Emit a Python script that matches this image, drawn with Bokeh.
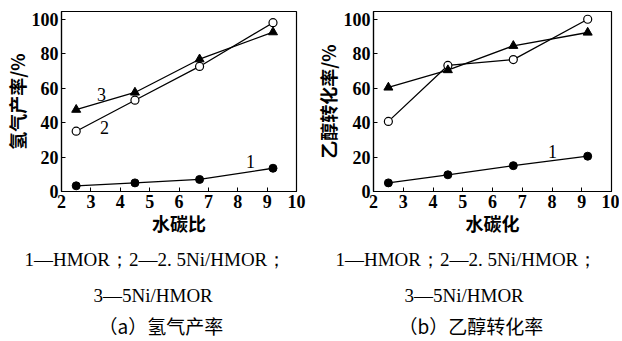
from bokeh.plotting import figure
from bokeh.models import Label, Range1d, Title
from bokeh.layouts import row
from bokeh.embed import file_html
from bokeh.resources import INLINE

# ---- data ----
ratio = [2.5, 4.5, 6.7, 9.2]
h2_hmor = [3.3, 5.0, 7.0, 13.5]
h2_25ni = [35.0, 53.0, 72.6, 98.0]
h2_5ni = [47.5, 57.5, 76.8, 92.5]

conv_hmor = [5.0, 9.7, 15.0, 20.5]
conv_25ni = [40.7, 73.2, 76.6, 100.0]
conv_5ni = [60.4, 70.5, 84.6, 92.3]

x_ticks = [2, 3, 4, 5, 6, 7, 8, 9, 10]
y_ticks = [0, 20, 40, 60, 80, 100]

legend_line1 = "1—HMOR；2—2. 5Ni/HMOR；"
legend_line2 = "3—5Ni/HMOR"
caption_a = "（a）氢气产率"
caption_b = "（b）乙醇转化率"

SERIF = "Liberation Serif"
CJK = "Noto Sans CJK SC"
YTOP = 104.5
FH = 180


def make(ylabel, xlabel, s1, s2, s3, left, fw, right, ylab_standoff):
    p = figure(frame_width=fw, frame_height=FH, min_border_left=left,
               min_border_right=right, min_border_top=11, min_border_bottom=0,
               output_backend="svg", toolbar_location=None,
               x_range=Range1d(2, 10), y_range=Range1d(0, YTOP))
    p.xgrid.visible = False
    p.ygrid.visible = False
    p.outline_line_color = "black"
    p.outline_line_width = 1.2
    p.background_fill_color = "white"
    p.border_fill_color = "white"
    for ax in (p.xaxis[0], p.yaxis[0]):
        ax.axis_line_color = "black"
        ax.axis_line_width = 1.2
        ax.major_tick_in = 4
        ax.major_tick_out = 0
        ax.minor_tick_line_color = None
        ax.major_label_text_font = SERIF
        ax.major_label_text_font_style = "bold"
        ax.major_label_text_font_size = "18px"
        ax.major_label_text_color = "black"
        ax.major_label_standoff = 3
        ax.axis_label_text_color = "black"
        ax.axis_label_text_font = CJK
        ax.axis_label_text_font_style = "bold"
        ax.axis_label_text_font_size = "18px"
    p.xaxis[0].ticker = x_ticks
    p.yaxis[0].ticker = y_ticks
    p.xaxis[0].axis_label = xlabel
    p.xaxis[0].axis_label_standoff = -1
    p.yaxis[0].axis_label = ylabel
    p.yaxis[0].axis_label_standoff = ylab_standoff

    p.line(ratio, s1, line_color="black", line_width=1.3)
    p.scatter(ratio, s1, marker="circle", size=8, fill_color="black", line_color="black")
    p.line(ratio, s2, line_color="black", line_width=1.3)
    p.scatter(ratio, s2, marker="circle", size=8, fill_color="white", line_color="black", line_width=1.2)
    p.line(ratio, s3, line_color="black", line_width=1.3)
    p.scatter(ratio, s3, marker="triangle", size=9, fill_color="black", line_color="black")
    return p


p1 = make("氢气产率/%", "水碳比", h2_hmor, h2_25ni, h2_5ni, 55, 235, 13, -1)
p2 = make("乙醇转化率/%", "水碳化", conv_hmor, conv_25ni, conv_5ni, 64, 238, 8, 0)


def lab(p, x, y, text):
    p.add_layout(Label(x=x, y=y, text=text, text_font=SERIF, text_font_size="18px",
                       text_align="center", text_baseline="middle", text_color="black"))


# series number labels
lab(p1, 3.36, 56.3, "3")
lab(p1, 3.46, 37.2, "2")
lab(p1, 8.43, 17.4, "1")
lab(p2, 8.02, 23.2, "1")


def cap(p, text, offset, standoff, font=SERIF, size="19px"):
    p.add_layout(Title(text=text, align="left", offset=offset, standoff=standoff,
                       text_font=font, text_font_size=size, text_font_style="normal",
                       text_color="black"), "below")


cap(p1, legend_line1, -37, 17)
cap(p1, legend_line2, 32, 9)
cap(p1, caption_a, 37, -1, font=CJK, size="19px")
cap(p2, legend_line1, -38, 17)
cap(p2, legend_line2, 31, 9)
cap(p2, caption_b, 25, -1, font=CJK, size="19px")

layout = row(p1, p2)
open("out.html", "w").write(file_html(layout, INLINE))
